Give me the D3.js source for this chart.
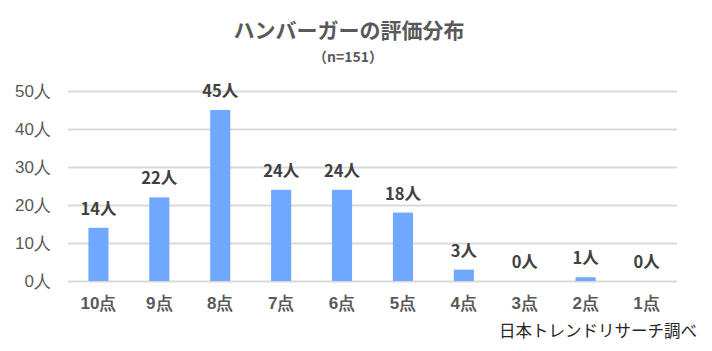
<!DOCTYPE html>
<html>
<head>
<meta charset="utf-8">
<script src="https://cdn.jsdelivr.net/npm/d3@7"></script>
<style>
  body { margin: 0; background: #fff; }
  svg { font-family: "Noto Sans CJK JP", "Noto Sans", sans-serif; }
</style>
</head>
<body>
<div id="chart"></div>
<script>
const categories = ["10点", "9点", "8点", "7点", "6点", "5点", "4点", "3点", "2点", "1点"];
const counts = [14, 22, 45, 24, 24, 18, 3, 0, 1, 0];
const yTicks = [0, 10, 20, 30, 40, 50];
const title = "ハンバーガーの評価分布";
const subtitle = "（n=151）";
const source = "日本トレンドリサーチ調べ";

const width = 712, height = 351;
const margin = { top: 91, right: 35, bottom: 70, left: 68 };

const svg = d3.select("#chart").append("svg")
  .attr("width", width)
  .attr("height", height);

const x = d3.scaleBand()
  .domain(categories)
  .range([margin.left, width - margin.right])
  .paddingInner(0.67)
  .paddingOuter(0.335);

const y = d3.scaleLinear()
  .domain([0, 50])
  .range([height - margin.bottom, margin.top]);

// gridlines + y labels
const yAxis = svg.append("g")
  .attr("transform", "translate(" + margin.left + ",0)")
  .call(d3.axisLeft(y).tickValues(yTicks)
    .tickSize(-(width - margin.left - margin.right))
    .tickPadding(17)
    .tickFormat(d => d + "人"));
yAxis.select(".domain").remove();
yAxis.selectAll(".tick line").attr("stroke", "#d9d9d9").attr("stroke-width", 2);
yAxis.selectAll(".tick text")
  .attr("fill", "#595959")
  .style("font-size", "17px")
  .style("font-weight", "300");

// bars
svg.append("g")
  .selectAll("rect")
  .data(counts)
  .enter()
  .append("rect")
  .attr("fill", "#70a8ff")
  .attr("x", (d, i) => x(categories[i]))
  .attr("width", x.bandwidth())
  .attr("y", d => y(d))
  .attr("height", d => y(0) - y(d));

// value labels
svg.append("g")
  .selectAll("text")
  .data(counts)
  .enter()
  .append("text")
  .attr("x", (d, i) => x(categories[i]) + x.bandwidth() / 2)
  .attr("y", d => y(d) - 13)
  .attr("text-anchor", "middle")
  .attr("fill", "#404040")
  .style("font-size", "16.5px")
  .style("font-weight", "bold")
  .text(d => d + "人");

// x labels
const xAxis = svg.append("g")
  .attr("transform", "translate(0," + y(0) + ")")
  .call(d3.axisBottom(x).tickSize(0).tickPadding(16));
xAxis.select(".domain").remove();
xAxis.selectAll(".tick text")
  .attr("fill", "#595959")
  .style("font-size", "17px")
  .style("font-weight", "bold");

// titles
svg.append("text")
  .attr("x", 349)
  .attr("y", 38)
  .attr("text-anchor", "middle")
  .attr("fill", "#595959")
  .style("font-size", "21px")
  .style("font-weight", "bold")
  .text(title);

svg.append("text")
  .attr("x", 348)
  .attr("y", 62)
  .attr("text-anchor", "middle")
  .attr("fill", "#595959")
  .style("font-size", "14px")
  .style("font-weight", "bold")
  .text(subtitle);

svg.append("text")
  .attr("x", 697)
  .attr("y", 337)
  .attr("text-anchor", "end")
  .attr("fill", "#262626")
  .style("font-size", "16.5px")
  .text(source);
</script>
</body>
</html>
